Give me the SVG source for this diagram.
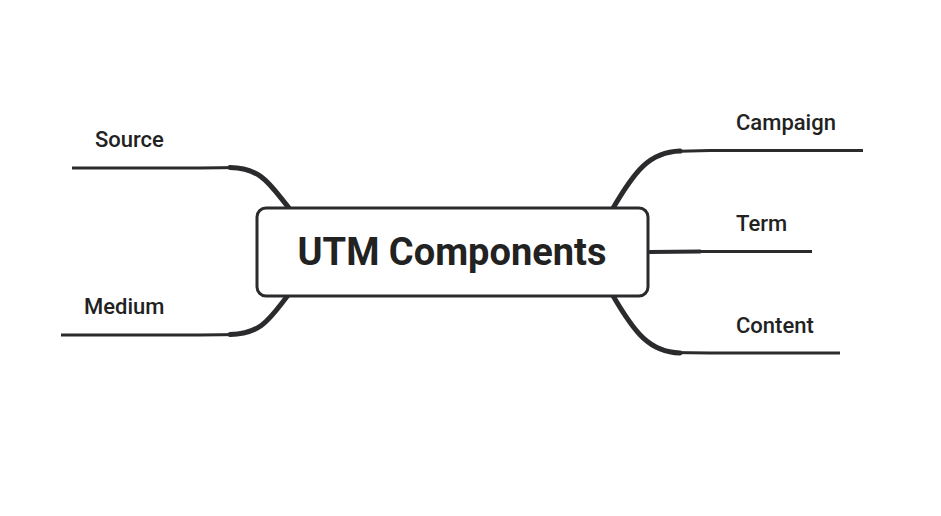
<svg xmlns="http://www.w3.org/2000/svg" width="941" height="516" viewBox="0 0 941 516">
<style>
.b{fill:none;stroke:#2b2b2e;stroke-linecap:round}
.t{stroke-width:5}.l{stroke-width:3;stroke-linecap:butt}
.lab{font-family:Roboto,"Liberation Sans",sans-serif;font-size:22px;font-weight:500;fill:#222}
</style>
<rect width="941" height="516" fill="#fff"/>
<g id="connectors">
<path class="b t" d="M612,210 C635,170 650,152 680,151"/><path class="b l" d="M670,151.5 L710,150.5 L863,150.5"/>
<path class="b" style="stroke-width:4" d="M650,252 L700,251.5"/><path class="b l" d="M690,251.5 L812,251.5"/>
<path class="b t" d="M612,294 C635,334 650,352 680,353"/><path class="b l" d="M670,352.5 L710,353 L840,353"/>
<path class="b t" d="M289,208 C270,185 262,168 230,167.5"/><path class="b l" d="M240,167.5 L200,168 L72,168"/>
<path class="b t" d="M289,294 C270,318 262,334 230,334.5"/><path class="b l" d="M240,334.5 L200,335 L61,335"/>
</g>
<g id="center"><rect x="257" y="208" width="391" height="88" rx="9" fill="#fff" stroke="#2b2b2e" stroke-width="3"/>
<text x="452" y="265" text-anchor="middle" font-family="Roboto,'Liberation Sans',sans-serif" font-weight="bold" font-size="38" fill="#222">UTM Components</text></g>
<g id="campaign"><text class="lab" x="736" y="130">Campaign</text></g>
<g id="term"><text class="lab" x="736" y="231">Term</text></g>
<g id="content"><text class="lab" x="736" y="333">Content</text></g>
<g id="source"><text class="lab" x="95" y="147">Source</text></g>
<g id="medium"><text class="lab" x="84" y="314">Medium</text></g>
</svg>
